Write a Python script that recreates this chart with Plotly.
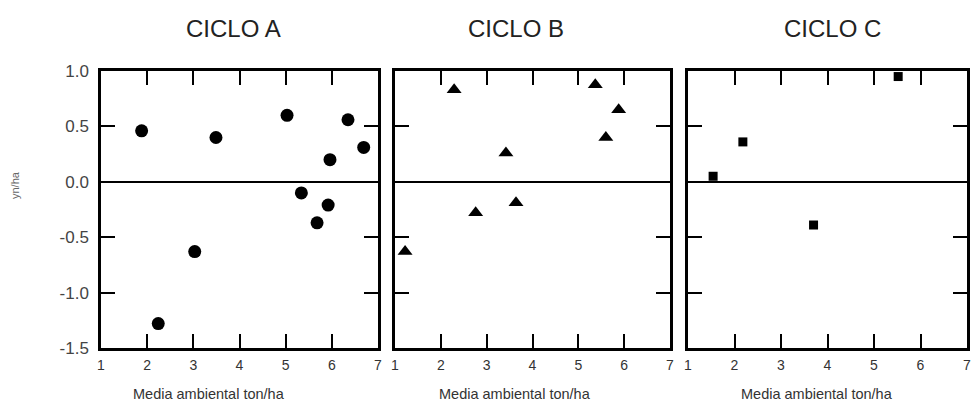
import plotly.graph_objects as go

# Data
ciclo_a_x = [1.88, 2.24, 3.03, 3.49, 5.03, 5.34, 5.68, 5.92, 5.96, 6.35, 6.69]
ciclo_a_y = [0.46, -1.28, -0.63, 0.40, 0.60, -0.10, -0.37, -0.21, 0.20, 0.56, 0.31]
ciclo_b_x = [1.22, 2.29, 2.76, 3.42, 3.64, 5.37, 5.60, 5.88]
ciclo_b_y = [-0.63, 0.83, -0.28, 0.26, -0.19, 0.875, 0.40, 0.65]
ciclo_c_x = [1.54, 2.18, 3.70, 5.52]
ciclo_c_y = [0.05, 0.36, -0.39, 0.95]

panel_titles = ["CICLO A", "CICLO B", "CICLO C"]
x_title = "Media ambiental ton/ha"
y_title = "yn/ha"
x_ticks = [1, 2, 3, 4, 5, 6, 7]
y_ticks = [1.0, 0.5, 0.0, -0.5, -1.0, -1.5]
y_ticktext = ["1.0", "0.5", "0.0", "-0.5", "-1.0", "-1.5"]

W, H = 973, 407
panels_px = [(101, 378), (395, 670), (688, 967)]
top_px, bot_px = 71, 348
ydom = [1 - bot_px / H, 1 - top_px / H]

FONT = "Liberation Sans, Arial, sans-serif"
fig = go.Figure()

series = [
    (ciclo_a_x, ciclo_a_y, "circle", 13),
    (ciclo_b_x, ciclo_b_y, "triangle-up", 13),
    (ciclo_c_x, ciclo_c_y, "square", 9),
]

layout = dict(
    width=W, height=H,
    margin=dict(l=0, r=0, t=0, b=0),
    paper_bgcolor="white", plot_bgcolor="white",
    showlegend=False,
    font=dict(family=FONT, color="#222"),
)

for i, ((xs, ys, sym, sz), (x0, x1)) in enumerate(zip(series, panels_px)):
    n = "" if i == 0 else str(i + 1)
    fig.add_trace(go.Scatter(
        x=xs, y=ys, mode="markers",
        marker=dict(symbol=sym, size=sz, color="black", line=dict(width=0)),
        xaxis="x" + n, yaxis="y" + n,
    ))
    layout["xaxis" + n] = dict(
        domain=[x0 / W, x1 / W], range=[1, 7], anchor="y" + n,
        tickvals=x_ticks, ticktext=[str(t) for t in x_ticks],
        ticks="inside", ticklen=14, tickwidth=2, tickcolor="black",
        showline=True, linewidth=2.5, linecolor="black", mirror="ticks",
        showgrid=False, zeroline=False,
        tickfont=dict(size=14, color="#333"),
        ticklabelstandoff=2,
        automargin=False,
    )
    layout["yaxis" + n] = dict(
        domain=ydom, range=[-1.5, 1.0], anchor="x" + n,
        tickvals=y_ticks, ticktext=y_ticktext,
        showticklabels=(i == 0),
        ticks="inside", ticklen=14, tickwidth=2, tickcolor="black",
        showline=True, linewidth=2.5, linecolor="black", mirror="ticks",
        showgrid=False, zeroline=True, zerolinecolor="black", zerolinewidth=2,
        tickfont=dict(size=17, color="#444"),
        ticklabelstandoff=6,
        automargin=False,
    )

fig.update_layout(**layout)

title_cx = [233, 516, 832]
xt_cx = [209, 515, 817]
for t, cx in zip(panel_titles, title_cx):
    fig.add_annotation(text=t, x=cx / W, y=1 - 28 / H, xref="paper", yref="paper",
                       showarrow=False, font=dict(size=24, color="#222", family=FONT),
                       xanchor="center", yanchor="middle")
for cx in xt_cx:
    fig.add_annotation(text=x_title, x=cx / W, y=1 - 394 / H, xref="paper", yref="paper",
                       showarrow=False, font=dict(size=14.5, color="#333", family=FONT),
                       xanchor="center", yanchor="middle")
fig.add_annotation(text=y_title, x=15 / W, y=1 - 185 / H, xref="paper", yref="paper",
                   showarrow=False, textangle=-90, font=dict(size=11, color="#666", family=FONT),
                   xanchor="center", yanchor="middle")

fig.write_html("out.html")
